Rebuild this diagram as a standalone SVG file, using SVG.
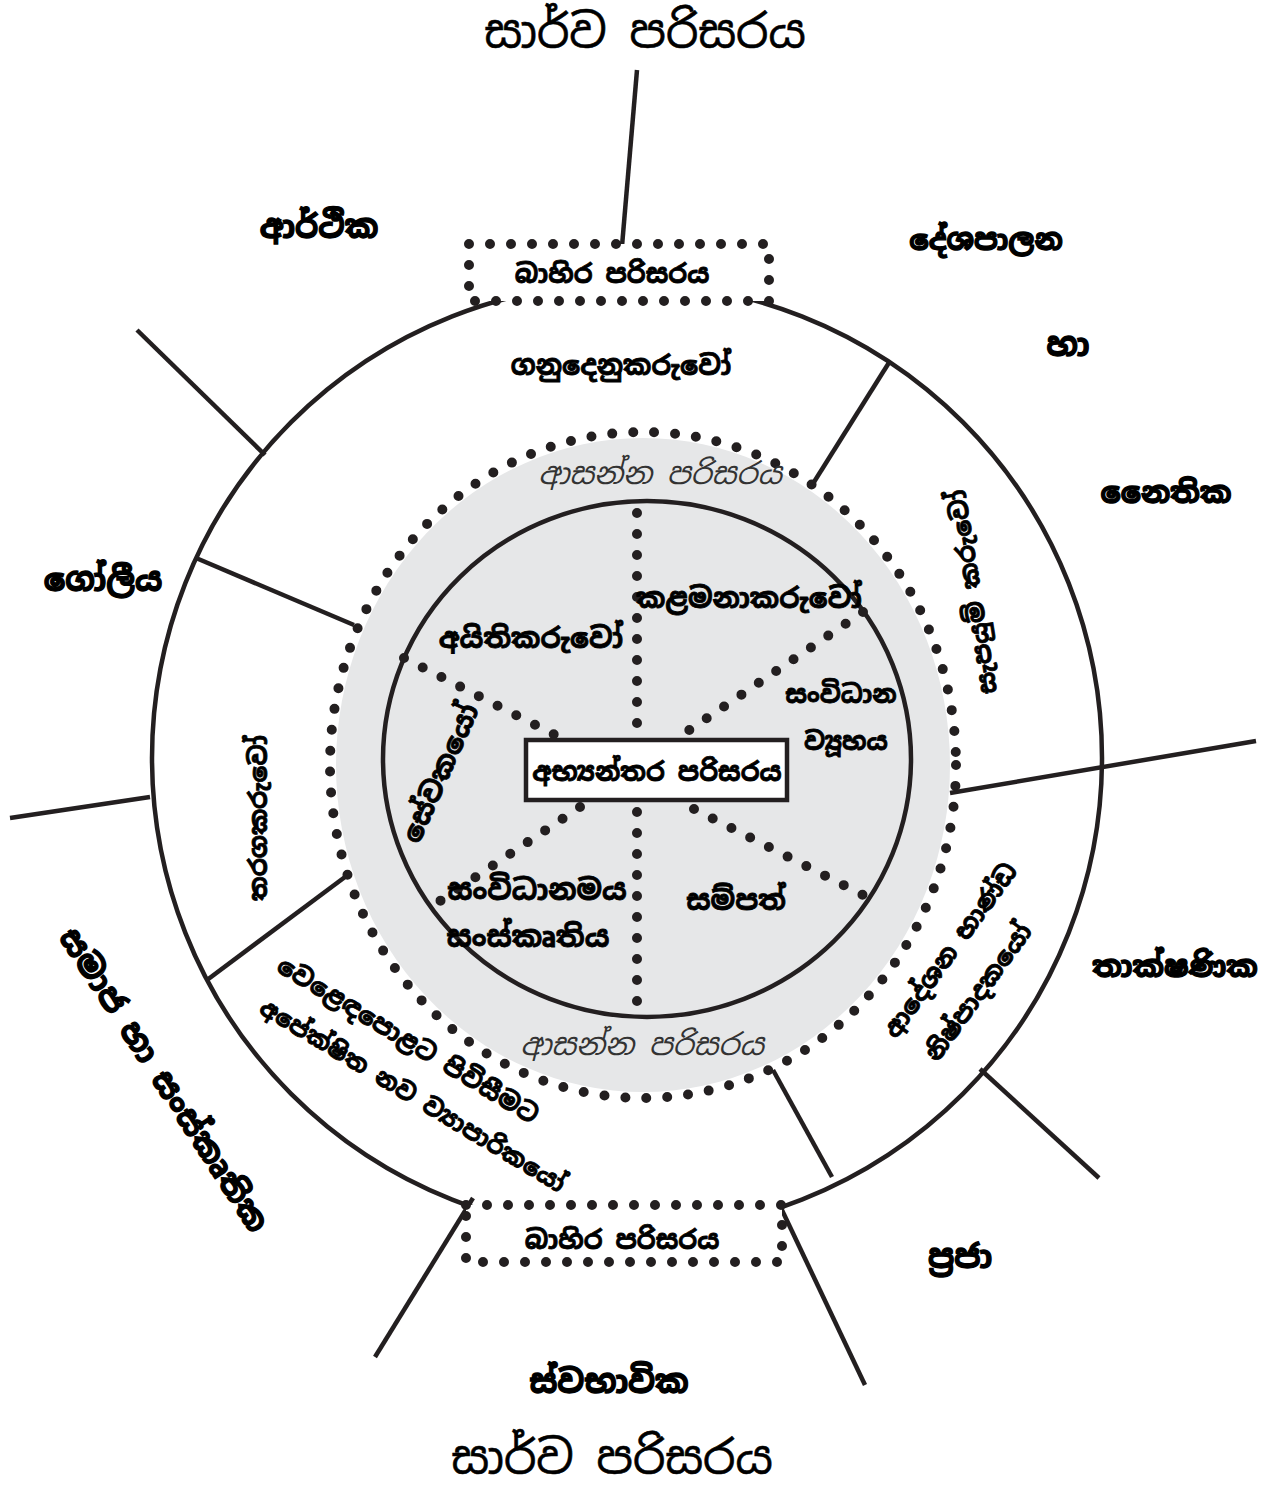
<svg xmlns="http://www.w3.org/2000/svg" width="1274" height="1489" viewBox="0 0 1274 1489">
<style>
.ln{stroke:#231f20;stroke-width:4.5;fill:none;stroke-linecap:butt}
.dot{stroke:#231f20;stroke-width:10;fill:none;stroke-linecap:round;stroke-dasharray:0 21}
.t{font-family:"Noto Sans Sinhala","Noto Sans","Liberation Sans",sans-serif;fill:#000;text-anchor:middle}
.big{font-size:46px;stroke:#000;stroke-width:0.6}
.env{font-size:32px;font-weight:bold;stroke:#000;stroke-width:1.3}
.in{font-size:25px;font-weight:bold;stroke:#000;stroke-width:0.8}
.it{font-size:30px;font-style:italic;fill:#333;font-weight:normal}
</style>
<rect width="1274" height="1489" fill="#fff"/>
<g id="shade">
<ellipse cx="643" cy="765" rx="307" ry="327" fill="#e6e7e8"/>
</g>
<g id="outer-ring"><circle cx="627" cy="758" r="475" class="ln"/></g>
<g id="near-ring"><ellipse cx="643" cy="765" rx="313" ry="333" class="dot"/></g>
<g id="inner-ring"><ellipse cx="647" cy="759" rx="264" ry="258" class="ln"/></g>
<g id="connectors">
<line class="ln" x1="637" y1="70" x2="622" y2="246"/>
<line class="ln" x1="137" y1="330" x2="265" y2="455"/>
<line class="ln" x1="196" y1="558" x2="354" y2="625"/>
<line class="ln" x1="10" y1="818" x2="150" y2="797"/>
<line class="ln" x1="207" y1="980" x2="345" y2="877"/>
<line class="ln" x1="473" y1="1198" x2="375" y2="1357"/>
<line class="ln" x1="781" y1="1208" x2="865" y2="1385"/>
<line class="ln" x1="773" y1="1070" x2="832" y2="1177"/>
<line class="ln" x1="980" y1="1069" x2="1099" y2="1178"/>
<line class="ln" x1="950" y1="793" x2="1256" y2="741"/>
<line class="ln" x1="814" y1="482" x2="890" y2="361"/>
<line class="dot" x1="637" y1="513" x2="637" y2="727"/>
<line class="dot" x1="637" y1="812" x2="637" y2="1012"/>
<line class="dot" x1="863" y1="612" x2="685" y2="733"/>
<line class="dot" x1="404" y1="658" x2="559" y2="737"/>
<line class="dot" x1="580" y1="807" x2="437" y2="903"/>
<line class="dot" x1="694" y1="809" x2="869" y2="898"/>
</g>
<g id="top-box">
<rect x="469" y="244" width="300" height="57" fill="#fff"/>
<rect x="469" y="244" width="300" height="57" class="dot"/>
<text class="t in" x="612" y="283" style="font-size:26px">බාහිර පරිසරය</text>
</g>
<g id="bottom-box">
<rect x="466" y="1205" width="316" height="57" fill="#fff"/>
<rect x="466" y="1205" width="316" height="57" class="dot"/>
<text class="t in" x="622" y="1249" style="font-size:26px">බාහිර පරිසරය</text>
</g>
<g id="inner-box">
<rect x="526" y="740" width="261" height="60" fill="#fff" stroke="#231f20" stroke-width="4.5"/>
<text class="t in" x="657" y="781" style="font-size:26px">අභ්‍යන්තර පරිසරය</text>
</g>
<g id="macro-labels">
<text class="t big" x="645" y="48">සාර්ව පරිසරය</text>
<text class="t big" x="612" y="1474">සාර්ව පරිසරය</text>
</g>
<g id="external-labels">
<text class="t env" x="319" y="238">ආර්ථික</text>
<text class="t env" x="986" y="250" style="font-size:29px">දේශපාලන</text>
<text class="t env" x="1068" y="356">හා</text>
<text class="t env" x="1166" y="503" style="font-size:30px">නෛතික</text>
<text class="t env" x="103" y="591">ගෝලීය</text>
<text class="t env" x="1175" y="977" style="font-size:30px">තාක්ෂණික</text>
<text class="t env" x="960" y="1268">ප්‍රජා</text>
<text class="t env" x="609" y="1393">ස්වභාවික</text>
<text class="t env" transform="translate(164,1080) rotate(57)" x="0" y="11">සමාජ හා සංස්කෘතික</text>
</g>
<g id="near-labels">
<text class="t in" x="621" y="375" style="font-size:27px">ගනුදෙනුකරුවෝ</text>
<text class="t it" x="660" y="484">ආසන්න පරිසරය</text>
<text class="t it" x="642" y="1055">ආසන්න පරිසරය</text>
<text class="t in" transform="translate(258,818) rotate(-90)" x="0" y="9">තරගකරුවෝ</text>
<text class="t in" transform="translate(972,592) rotate(-99)" x="0" y="9">සැපයුම් කරුවෝ</text>
<text class="t in" transform="translate(950,950) rotate(-54)" x="0" y="9">ආදේශන භාණ්ඩ</text>
<text class="t in" transform="translate(978,992) rotate(-54)" x="0" y="9">නිෂ්පාදකයෝ</text>
<text class="t in" transform="translate(408,1040) rotate(31)" x="0" y="9">වෙළෙඳපොළට පිවිසීමට</text>
<text class="t in" transform="translate(413,1095) rotate(31)" x="0" y="9" style="font-size:24px">අපේක්ෂිත නව ව්‍යාපාරිකයෝ</text>
</g>
<g id="internal-labels">
<text class="t in" x="531" y="648" style="font-size:28px">අයිතිකරුවෝ</text>
<text class="t in" x="749" y="608" style="font-size:28px">කළමනාකරුවෝ</text>
<text class="t in" x="841" y="703">සංවිධාන</text>
<text class="t in" x="846" y="750">ව්‍යූහය</text>
<text class="t in" transform="translate(440,773) rotate(-66)" x="0" y="10" style="font-size:28px">සේවකයෝ</text>
<text class="t in" x="537" y="900" style="font-size:29px">සංවිධානමය</text>
<text class="t in" x="528" y="947" style="font-size:29px">සංස්කෘතිය</text>
<text class="t in" x="736" y="910" style="font-size:28px">සම්පත්</text>
</g>
</svg>
